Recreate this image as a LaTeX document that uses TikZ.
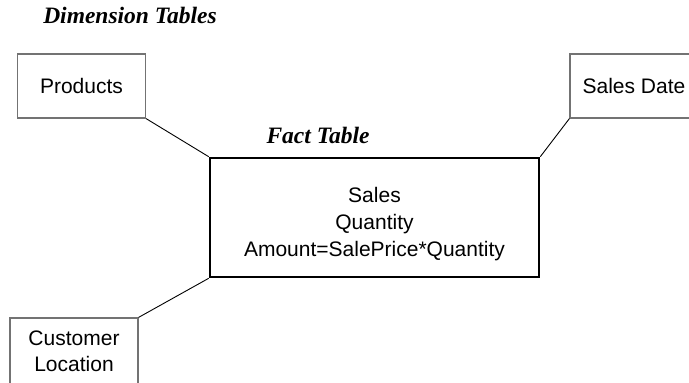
\documentclass[tikz,border=0pt]{standalone}
\usepackage{fontspec}
\setmainfont{Liberation Sans}
\newfontfamily\titlefont{Liberation Serif}
\usetikzlibrary{positioning}

\begin{document}
\begin{tikzpicture}[x=1pt,y=-1pt]
      \tikzstyle{dim}=[rectangle,draw=black!55,line width=1.2pt,minimum width=128pt,minimum height=64pt,font=\fontsize{21}{26}\selectfont,align=center,inner sep=0pt]
      \tikzstyle{fact}=[rectangle,draw=black,line width=2.6pt,minimum width=329pt,minimum height=119pt,font=\fontsize{21}{27}\selectfont,align=center]
      \tikzstyle{title}=[font=\titlefont\bfseries\itshape\fontsize{23.5}{28}\selectfont]

      \useasboundingbox (0,0) rectangle (689,383);

      \node[title](dimtitle) at (130,15){Dimension Tables};
      \node[title](facttitle) at (318,135){Fact Table};

      \node[dim](prod) at (81.5,86){Products};
      \node[dim](date) at (634,86){Sales Date};
      \node[dim,minimum height=66pt](cust) at (74,351){Customer\\Location};
      \node[fact](sales) at (374.5,217.5){\rule{0pt}{29pt}Sales\\Quantity\\Amount=SalePrice*Quantity};

      \path[line width=0.9pt]
      (prod.south east) edge (sales.north west)
      (date.south west) edge (sales.north east)
      (cust.north east) edge (sales.south west);
\end{tikzpicture}
\end{document}
